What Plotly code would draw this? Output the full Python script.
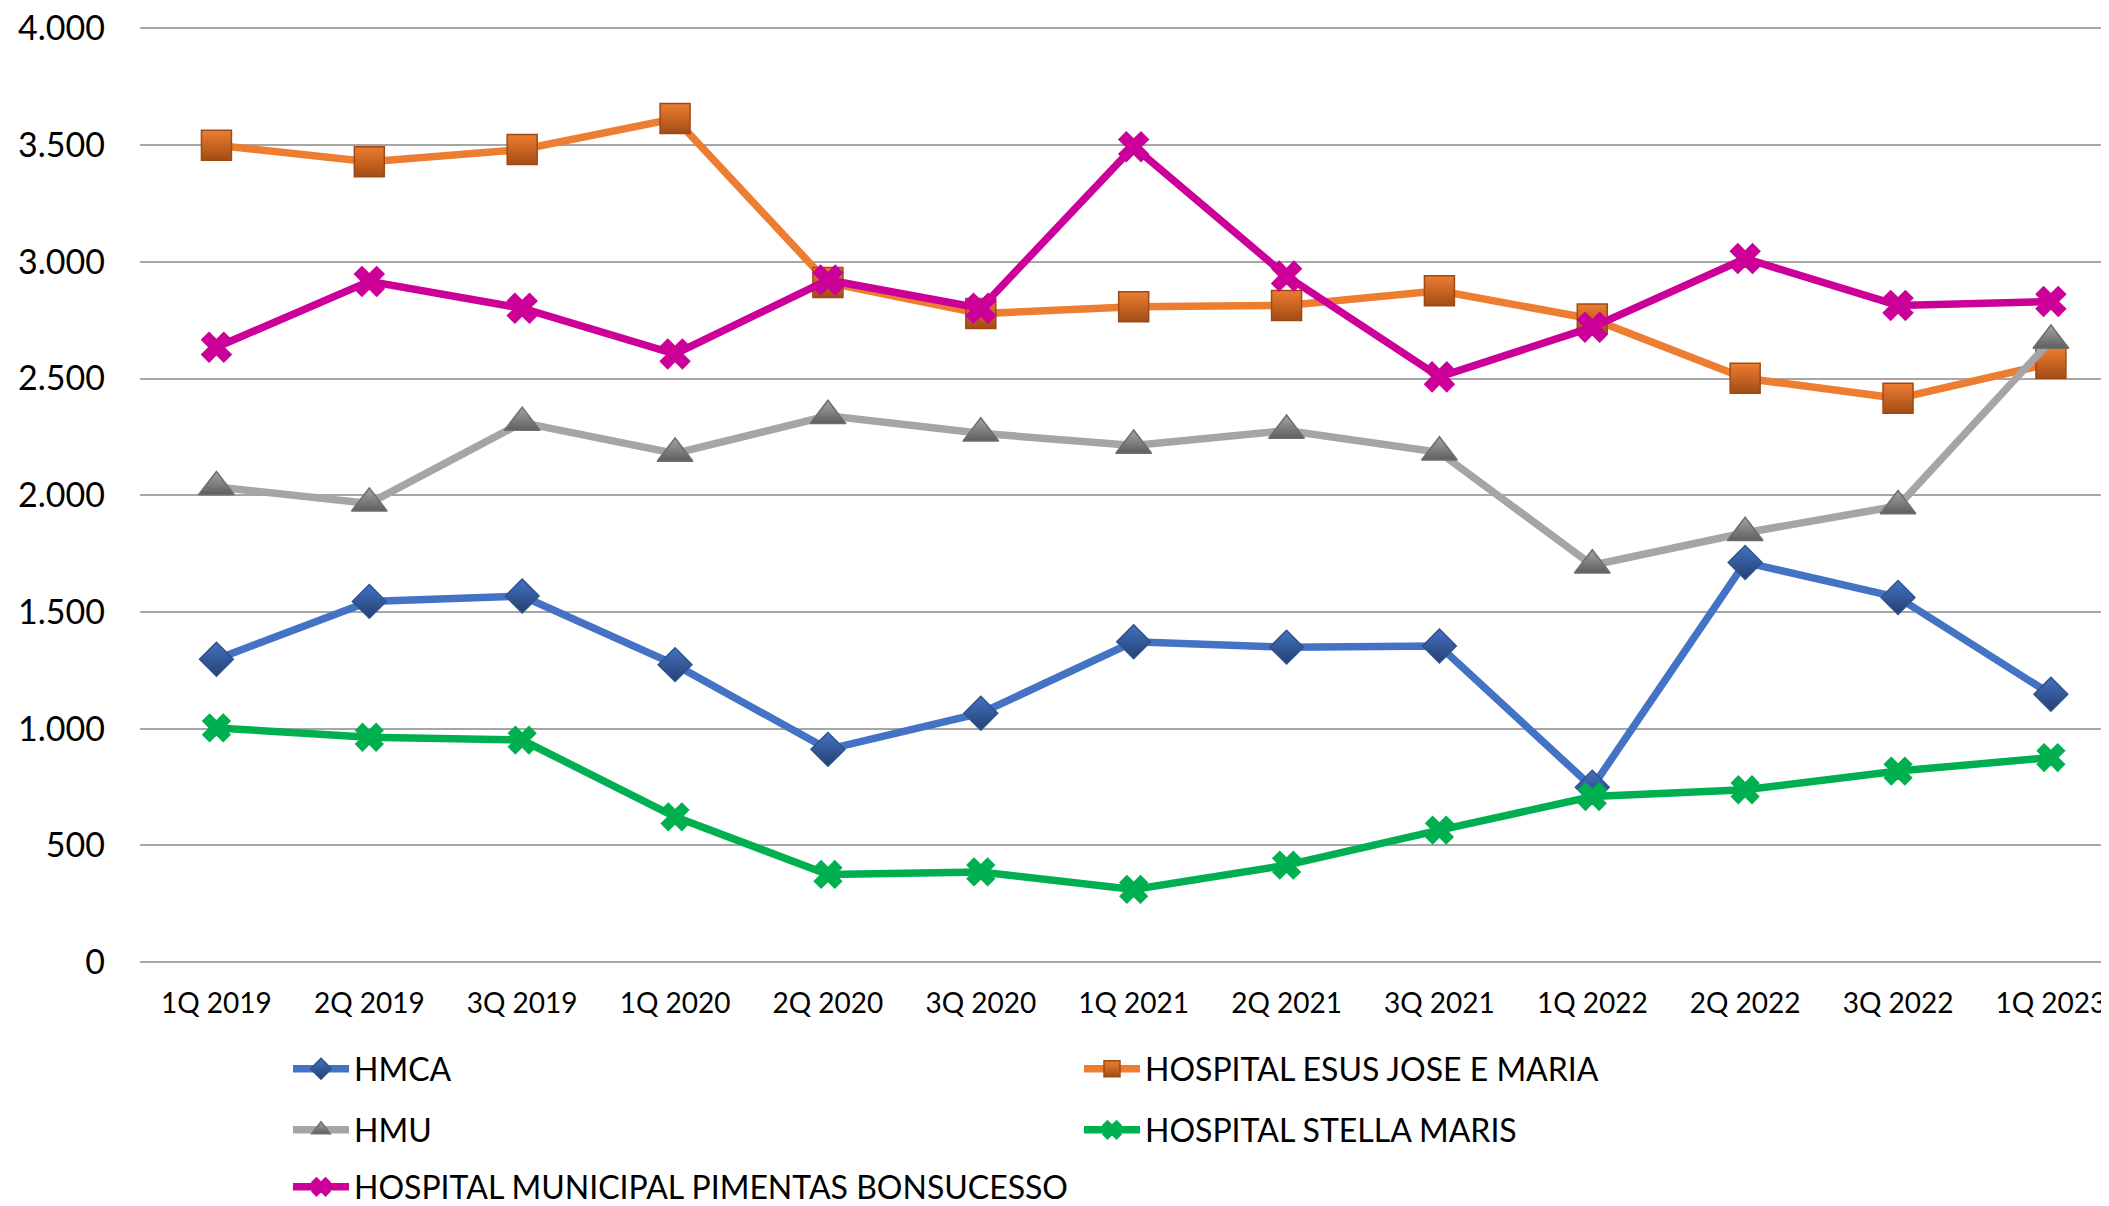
import plotly.graph_objects as go

categories = ["1Q 2019", "2Q 2019", "3Q 2019", "1Q 2020", "2Q 2020", "3Q 2020",
              "1Q 2021", "2Q 2021", "3Q 2021", "1Q 2022", "2Q 2022", "3Q 2022", "1Q 2023"]

hmca = [1297, 1545, 1568, 1274, 911, 1066, 1372, 1349, 1354, 749, 1712, 1562, 1147]
esus = [3499, 3429, 3481, 3614, 2911, 2778, 2807, 2813, 2876, 2755, 2501, 2415, 2565]
hmu = [2035, 1965, 2311, 2179, 2340, 2265, 2213, 2277, 2184, 1700, 1839, 1954, 2663]
stella = [1003, 963, 951, 622, 375, 386, 311, 415, 565, 709, 738, 818, 876]
pimentas = [2634, 2916, 2801, 2605, 2922, 2801, 3493, 2939, 2507, 2720, 3014, 2813, 2830]

y_ticks = [0, 500, 1000, 1500, 2000, 2500, 3000, 3500, 4000]

FONT = "Lato"
# the page body has an 8px margin; size the figure so it fills the window exactly
OFF = 8
W, H = 2109 - OFF, 1206 - OFF

series = [
    ("HMCA", hmca, "#4472C4", "diamond", 26, "#2F528F", "#24406F", "legend"),
    ("HOSPITAL ESUS JOSE E MARIA", esus, "#ED7D31", "square", 30, "#9E4A17", "#A24C14", "legend"),
    ("HMU", hmu, "#A5A5A5", "triangle-up", 31, "#6E6E6E", "#5E5E5E", "legend2"),
    ("HOSPITAL STELLA MARIS", stella, "#00B050", "x", 24, "#00B050", None, "legend2"),
    ("HOSPITAL MUNICIPAL PIMENTAS BONSUCESSO", pimentas, "#CC0099", "x", 26, "#CC0099", None, "legend3"),
]

fig = go.Figure()
for name, vals, color, sym, size, lc, grad, lg in series:
    marker = dict(symbol=sym, size=size, color=color, line=dict(color=lc, width=1.5))
    if grad:
        marker["gradient"] = dict(type="vertical", color=grad)
    fig.add_trace(go.Scatter(
        x=categories, y=vals, name=name, mode="lines+markers",
        line=dict(color=color, width=7.5),
        marker=marker,
        legend=lg,
    ))

leg_common = dict(orientation="h", xref="container", yref="container",
                  xanchor="left", yanchor="middle", bgcolor="rgba(0,0,0,0)",
                  font=dict(family=FONT, size=32, color="black"),
                  itemwidth=56, entrywidth=720, tracegroupgap=0)

def ly(page_y):
    return 1 - (page_y - OFF) / H

Y_TOP = 4006  # a hair above 4000 so the top gridline is drawn
top_px = 28 - (Y_TOP - 4000) / 4000 * (962 - 28)

fig.update_layout(
    width=W, height=H,
    paper_bgcolor="white", plot_bgcolor="white",
    separators=",.",
    margin=dict(l=140 - OFF, r=0, t=top_px - OFF, b=H - (962 - OFF), autoexpand=False),
    showlegend=True,
    legend=dict(x=(286 - OFF + 2) / W, y=ly(1069), **leg_common),
    legend2=dict(x=(286 - OFF + 2) / W, y=ly(1130), **leg_common),
    legend3=dict(x=(286 - OFF + 2) / W, y=ly(1187), **leg_common),
    xaxis=dict(
        type="category", range=[-0.5, 12.38],
        showgrid=False, showline=False, zeroline=False,
        tickfont=dict(family=FONT, size=28, color="black"),
        ticks="", ticklabelstandoff=22,
    ),
    yaxis=dict(
        range=[0, Y_TOP], tickvals=y_ticks, tickformat=",d",
        showgrid=True, gridcolor="#A6A6A6", gridwidth=1.5,
        zeroline=True, zerolinecolor="#A6A6A6", zerolinewidth=1.5,
        showline=False, ticks="", ticklabelstandoff=34,
        ticklabeloverflow="allow",
        tickfont=dict(family=FONT, size=34, color="black"),
    ),
)

fig.write_html("out.html")
